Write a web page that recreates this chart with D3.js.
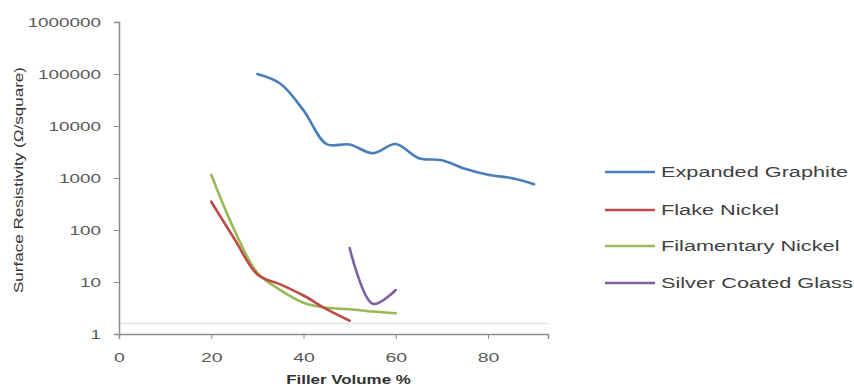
<!DOCTYPE html>
<html><head><meta charset="utf-8">
<script src="https://cdn.jsdelivr.net/npm/d3@7"></script>
<style>body{margin:0;background:#fff}svg{display:block}text{font-family:"Liberation Sans",Arial,sans-serif}</style>
</head><body><svg id="c" width="854" height="389"></svg>
<script>
const seriesNames = ["Expanded Graphite","Flake Nickel","Filamentary Nickel","Silver Coated Glass"];
const seriesColors = ["#4A7EBB","#BE4B48","#98B954","#7D60A0"];
const graphiteX = [30,35,40,45,50,55,60,65,70,75,80,85,90];
const graphiteY = [100000,65000,20000,4500,4400,3000,4500,2400,2200,1500,1150,1000,760];
const flakeX = [20,25,30,35,40,45,50];
const flakeY = [350,68,14,9,5.5,3,1.8];
const filamentX = [20,25,30,35,40,45,50,55,60];
const filamentY = [1150,100,15,7,4,3.2,3,2.7,2.5];
const silverX = [50,55,60];
const silverY = [45,3.8,7];
const xTicks = [0,20,40,60,80];
const yTicks = [1,10,100,1000,10000,100000,1000000];
const faintLineValue = 1.6;

const svg = d3.select("#c");
const x = d3.scaleLinear().domain([0,93]).range([119,548]);
const y = d3.scaleLog().domain([1,1000000]).range([334,22]);
const stretch = (sel,f)=>sel.each(function(){const w=this.getComputedTextLength();d3.select(this).attr("textLength",w*f).attr("lengthAdjust","spacingAndGlyphs");});
const hscale = (sel,s)=>sel.each(function(){const t=d3.select(this);const ox=+t.attr("x")||0;t.attr("x",ox/s).attr("transform",`scale(${s},1)`);});

// faint line
svg.append("line").attr("x1",x(0)).attr("x2",x(93)).attr("y1",y(faintLineValue)).attr("y2",y(faintLineValue))
  .attr("stroke","#e4e4e4").attr("stroke-width",1.5);

// axes
const gx = svg.append("g").attr("transform",`translate(0,${y(1)})`)
  .call(d3.axisBottom(x).tickValues(xTicks).tickSize(5).tickPadding(14).tickFormat(d3.format("d")));
const gy = svg.append("g").attr("transform",`translate(${x(0)},0)`)
  .call(d3.axisLeft(y).tickValues(yTicks).tickSize(5).tickPadding(13).tickFormat(d3.format("d")));
[gx,gy].forEach(g=>{
  g.select(".domain").attr("stroke","#8c8c8c").attr("stroke-width",1.5);
  g.selectAll(".tick line").attr("stroke","#8c8c8c");
  g.selectAll("text").attr("font-size",13).attr("fill","#595959");
});
hscale(gx.selectAll(".tick text"),1.5);
hscale(gy.selectAll(".tick text"),1.45);

// lines
const line = d3.line().x(d=>x(d[0])).y(d=>y(d[1])).curve(d3.curveCatmullRom.alpha(0.5));
const data = [
  d3.zip(graphiteX,graphiteY),
  d3.zip(flakeX,flakeY),
  d3.zip(filamentX,filamentY),
  d3.zip(silverX,silverY)
];
const order=[0,2,1,3];
order.forEach(i=>{
  svg.append("path").datum(data[i]).attr("d",line).attr("fill","none")
    .attr("stroke",seriesColors[i]).attr("stroke-width",2.6).attr("stroke-linejoin","round").attr("stroke-linecap","round");
});

// axis titles
svg.append("text").attr("x",(x(0)+x(93))/2+15).attr("y",384).attr("text-anchor","middle")
  .attr("font-size",13).attr("font-weight","bold").attr("fill","#333").text("Filler Volume %")
  .call(s=>stretch(s,1.3));
svg.append("text").attr("transform","translate(23,180) rotate(-90)").attr("text-anchor","middle")
  .attr("font-size",13).attr("fill","#333").attr("textLength",226).attr("lengthAdjust","spacingAndGlyphs")
  .text("Surface Resistivity (\u03A9/square)");

// legend
const legY = [172,210,246,283];
seriesNames.forEach((n,i)=>{
  svg.append("line").attr("x1",605).attr("x2",655).attr("y1",legY[i]).attr("y2",legY[i])
    .attr("stroke",seriesColors[i]).attr("stroke-width",2.6);
  svg.append("text").attr("x",661).attr("y",legY[i]+5).attr("font-size",14).attr("fill","#404040").text(n)
    .call(s=>stretch(s,1.55));
});
</script></body></html>
